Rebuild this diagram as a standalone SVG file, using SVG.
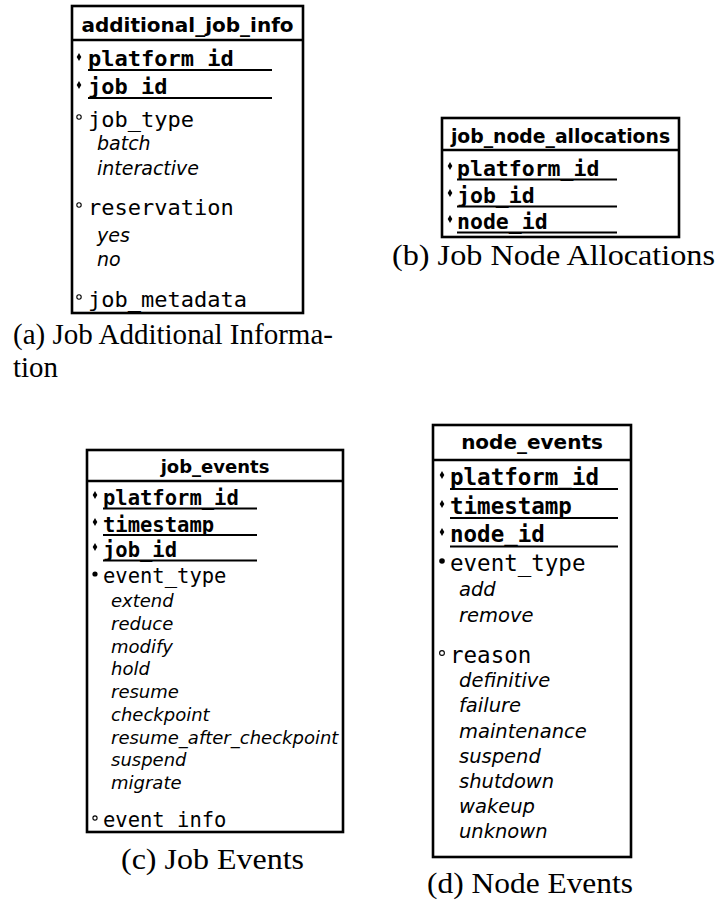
<svg xmlns="http://www.w3.org/2000/svg" width="721" height="905" viewBox="0 0 721 905">
<style>
.box{fill:#fff;stroke:#000;stroke-width:2.6}
.sep{stroke:#000;stroke-width:2.6}
.ul{stroke:#000;stroke-width:2}
.title{font-family:"DejaVu Sans",sans-serif;font-weight:bold;text-anchor:middle;fill:#000}
.key{font-family:"DejaVu Sans Mono",monospace;font-weight:bold;fill:#000}
.fld{font-family:"DejaVu Sans Mono",monospace;fill:#000}
.val{font-family:"DejaVu Sans",sans-serif;font-style:italic;fill:#000}
.cap{font-family:"Liberation Serif","Times New Roman",serif;font-size:29px;fill:#000}
.dia{fill:#000}
.opt{fill:#fff;stroke:#000;stroke-width:1.1}
.req{fill:#000}
</style>
<defs>
<polygon id="dm" points="0,-4 2.3,0 0,4 -2.3,0"/>
</defs>

<g id="additional_job_info">
<rect class="box" x="72" y="6" width="231" height="307"/>
<line class="sep" x1="72" y1="40" x2="303" y2="40"/>
<text class="title" x="187.5" y="32" font-size="20">additional_job_info</text>
<use href="#dm" x="79" y="57" class="dia"/>
<text class="key" x="88" y="66" font-size="22">platform_id</text>
<line class="ul" x1="88" y1="70" x2="272" y2="70"/>
<use href="#dm" x="79" y="85" class="dia"/>
<text class="key" x="88" y="94" font-size="22">job_id</text>
<line class="ul" x1="88" y1="98" x2="272" y2="98"/>
<circle class="opt" cx="79" cy="117" r="2.2"/>
<text class="fld" x="88" y="127" font-size="22">job_type</text>
<text class="val" x="97" y="150" font-size="19">batch</text>
<text class="val" x="97" y="175" font-size="19">interactive</text>
<circle class="opt" cx="79" cy="205" r="2.2"/>
<text class="fld" x="88" y="215" font-size="22">reservation</text>
<text class="val" x="97" y="242" font-size="19">yes</text>
<text class="val" x="97" y="266" font-size="19">no</text>
<circle class="opt" cx="79" cy="297" r="2.2"/>
<text class="fld" x="88" y="307" font-size="22">job_metadata</text>
</g>
<text class="cap" x="13" y="344" textLength="320" lengthAdjust="spacingAndGlyphs">(a) Job Additional Informa-</text>
<text class="cap" x="13" y="377" textLength="45" lengthAdjust="spacingAndGlyphs">tion</text>

<g id="job_node_allocations">
<rect class="box" x="442" y="118" width="237" height="119"/>
<line class="sep" x1="442" y1="150" x2="679" y2="150"/>
<text class="title" x="560.5" y="143" font-size="18.8">job_node_allocations</text>
<use href="#dm" x="450" y="166" class="dia"/>
<text class="key" x="457" y="176" font-size="21.5">platform_id</text>
<line class="ul" x1="457" y1="179.5" x2="617" y2="179.5"/>
<use href="#dm" x="450" y="193" class="dia"/>
<text class="key" x="457" y="203" font-size="21.5">job_id</text>
<line class="ul" x1="457" y1="206.5" x2="617" y2="206.5"/>
<use href="#dm" x="450" y="219" class="dia"/>
<text class="key" x="457" y="229" font-size="21.5">node_id</text>
<line class="ul" x1="457" y1="232.5" x2="617" y2="232.5"/>
</g>
<text class="cap" x="392" y="265" textLength="323" lengthAdjust="spacingAndGlyphs">(b) Job Node Allocations</text>

<g id="job_events">
<rect class="box" x="87" y="450" width="256" height="382"/>
<line class="sep" x1="87" y1="481" x2="343" y2="481"/>
<text class="title" x="215" y="473" font-size="18">job_events</text>
<use href="#dm" x="95" y="495" class="dia"/>
<text class="key" x="103" y="505" font-size="20.5">platform_id</text>
<line class="ul" x1="103" y1="508.5" x2="257" y2="508.5"/>
<use href="#dm" x="95" y="522" class="dia"/>
<text class="key" x="103" y="532" font-size="20.5">timestamp</text>
<line class="ul" x1="103" y1="535" x2="257" y2="535"/>
<use href="#dm" x="95" y="547" class="dia"/>
<text class="key" x="103" y="557" font-size="20.5">job_id</text>
<line class="ul" x1="103" y1="560.5" x2="257" y2="560.5"/>
<circle class="req" cx="95" cy="574" r="2.6"/>
<text class="fld" x="103" y="583" font-size="20.5">event_type</text>
<text class="val" x="111" y="607" font-size="18">extend</text>
<text class="val" x="111" y="629.75" font-size="18">reduce</text>
<text class="val" x="111" y="652.5" font-size="18">modify</text>
<text class="val" x="111" y="675.25" font-size="18">hold</text>
<text class="val" x="111" y="698" font-size="18">resume</text>
<text class="val" x="111" y="720.75" font-size="18">checkpoint</text>
<text class="val" x="111" y="743.5" font-size="18">resume_after_checkpoint</text>
<text class="val" x="111" y="766.25" font-size="18">suspend</text>
<text class="val" x="111" y="789" font-size="18">migrate</text>
<circle class="opt" cx="95" cy="818" r="2.1"/>
<text class="fld" x="103" y="827" font-size="20.5">event_info</text>
</g>
<text class="cap" x="121" y="869" textLength="183" lengthAdjust="spacingAndGlyphs">(c) Job Events</text>

<g id="node_events">
<rect class="box" x="433" y="425" width="198" height="432"/>
<line class="sep" x1="433" y1="460" x2="631" y2="460"/>
<text class="title" x="532" y="449" font-size="20">node_events</text>
<use href="#dm" x="442" y="475" class="dia"/>
<text class="key" x="450" y="485" font-size="22.5">platform_id</text>
<line class="ul" x1="450" y1="489" x2="618" y2="489"/>
<use href="#dm" x="442" y="504" class="dia"/>
<text class="key" x="450" y="514" font-size="22.5">timestamp</text>
<line class="ul" x1="450" y1="518" x2="618" y2="518"/>
<use href="#dm" x="442" y="532" class="dia"/>
<text class="key" x="450" y="542" font-size="22.5">node_id</text>
<line class="ul" x1="450" y1="546.5" x2="618" y2="546.5"/>
<circle class="req" cx="442" cy="561" r="2.8"/>
<text class="fld" x="450" y="571" font-size="22.5">event_type</text>
<text class="val" x="459" y="596" font-size="19.5">add</text>
<text class="val" x="459" y="622" font-size="19.5">remove</text>
<circle class="opt" cx="442" cy="653" r="2.4"/>
<text class="fld" x="450" y="663" font-size="22.5">reason</text>
<text class="val" x="459" y="687" font-size="19.5">definitive</text>
<text class="val" x="459" y="712" font-size="19.5">failure</text>
<text class="val" x="459" y="738" font-size="19.5">maintenance</text>
<text class="val" x="459" y="763" font-size="19.5">suspend</text>
<text class="val" x="459" y="788" font-size="19.5">shutdown</text>
<text class="val" x="459" y="813" font-size="19.5">wakeup</text>
<text class="val" x="459" y="838" font-size="19.5">unknown</text>
</g>
<text class="cap" x="427" y="893" textLength="206" lengthAdjust="spacingAndGlyphs">(d) Node Events</text>
</svg>
